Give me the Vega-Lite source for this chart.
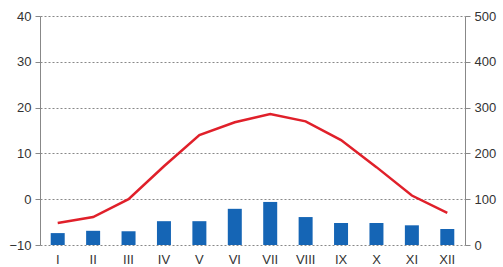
{
  "$schema": "https://vega.github.io/schema/vega-lite/v6.json",
  "width": 425,
  "height": 229,
  "autosize": {"type": "none"},
  "padding": {"left": 40, "top": 16, "right": 38, "bottom": 22},
  "background": "white",
  "config": {
    "view": {"stroke": null},
    "axis": {"labelFont": "Liberation Sans", "labelFontSize": 13, "labelColor": "#333333"}
  },
  "data": {
    "values": [
      {"m": "I", "t": -5.2, "p": 26},
      {"m": "II", "t": -3.9, "p": 31},
      {"m": "III", "t": 0, "p": 30},
      {"m": "IV", "t": 7.2, "p": 52},
      {"m": "V", "t": 14, "p": 52},
      {"m": "VI", "t": 16.8, "p": 79},
      {"m": "VII", "t": 18.6, "p": 94},
      {"m": "VIII", "t": 17, "p": 61},
      {"m": "IX", "t": 12.9, "p": 48},
      {"m": "X", "t": 7, "p": 48},
      {"m": "XI", "t": 0.8, "p": 43},
      {"m": "XII", "t": -3, "p": 35}
    ]
  },
  "encoding": {
    "x": {
      "field": "m", "type": "ordinal", "sort": null, "title": null,
      "axis": {"labelAngle": 0, "domain": false, "ticks": false, "labelPadding": 8}
    }
  },
  "layer": [
    {
      "mark": {"type": "bar", "color": "#1565b5", "size": 14},
      "encoding": {
        "y": {
          "field": "p", "type": "quantitative", "title": null,
          "scale": {"domain": [0, 500], "nice": false},
          "axis": {"orient": "right", "values": [0, 100, 200, 300, 400, 500], "grid": false, "domainColor": "#888888", "tickColor": "#888888", "tickSize": 5, "labelPadding": 4}
        }
      }
    },
    {
      "mark": {"type": "rule", "color": "#666666", "strokeWidth": 1},
      "encoding": {"y": {"datum": 0, "type": "quantitative", "scale": {"domain": [-10, 40], "nice": false}, "axis": null}}
    },
    {
      "mark": {"type": "line", "color": "#e0202a", "strokeWidth": 2.5, "interpolate": "linear"},
      "encoding": {
        "y": {
          "field": "t", "type": "quantitative", "title": null,
          "scale": {"domain": [-10, 40], "nice": false},
          "axis": {"orient": "left", "values": [-10, 0, 10, 20, 30, 40], "grid": true, "gridColor": "#888888", "gridDash": [2, 2], "domainColor": "#888888", "tickColor": "#888888", "tickSize": 5, "labelPadding": 4}
        }
      }
    }
  ],
  "resolve": {"scale": {"y": "independent"}}
}
